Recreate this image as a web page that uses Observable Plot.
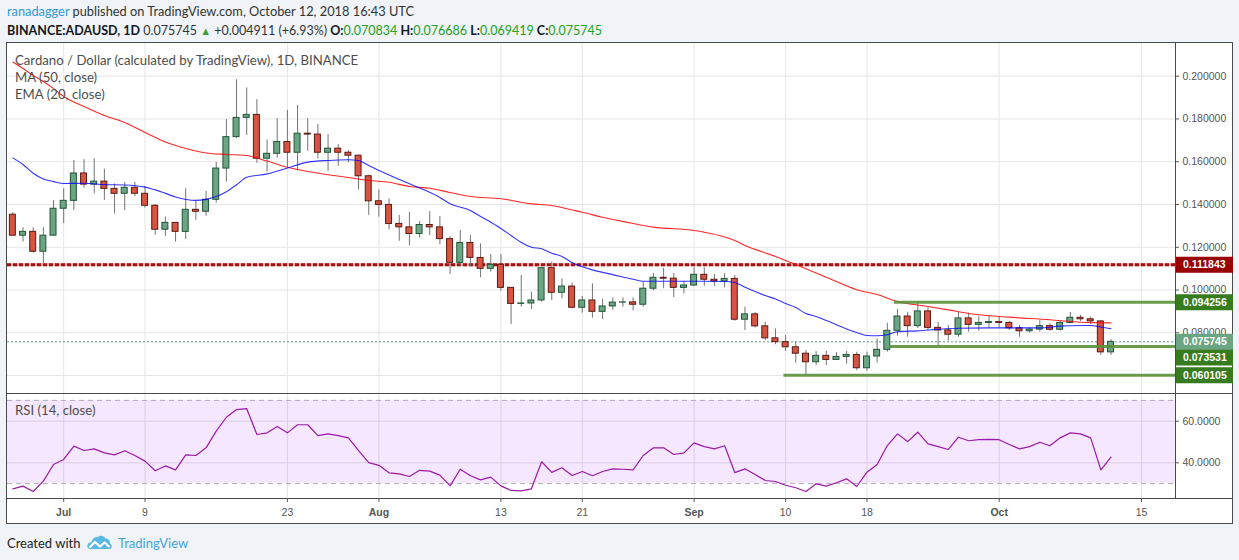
<!DOCTYPE html>
<html>
<head>
<meta charset="utf-8">
<script src="https://cdn.jsdelivr.net/npm/d3@7"></script>
<script src="https://cdn.jsdelivr.net/npm/@observablehq/plot@0.6"></script>
<style>
html,body{margin:0;padding:0;background:#f0f3f7;}
#root{position:relative;width:1239px;height:560px;overflow:hidden;background:#f0f3f7;font-family:Lato,"Open Sans",sans-serif;}
.abs{position:absolute;white-space:nowrap;}
.box{left:6px;top:42px;width:1227px;height:482px;border:1px solid #4a4a4a;box-sizing:border-box;background:#fff;}
.sep{background:#4a4a4a;}
.hdr{font-size:13px;line-height:17px;color:#333;}
.hdr b{color:#131722;font-weight:700;}
.user{color:#2f9bd6;}
.g{color:#22a022;}
.leg{font-size:13.2px;line-height:17px;color:#4e4e4e;left:15px;}
.foot{font-size:13px;line-height:18px;color:#222;}
.tv{color:#3ea6dc;}
svg.plot{position:absolute;}
</style>
</head>
<body>
<div id="root">
  <div class="abs hdr" style="left:7px;top:3px;font-size:12.8px;"><span class="user">ranadagger</span> published on TradingView.com, October 12, 2018 16:43 UTC</div>
  <div class="abs hdr" id="ohlc" style="left:7px;top:21.5px;font-size:12.5px;"></div>
  <div class="abs box"></div>
  <div id="plots"></div>
  <div class="abs sep" style="left:7px;top:393px;width:1226px;height:1px;"></div>
  <div class="abs sep" style="left:7px;top:498px;width:1226px;height:1px;"></div>
  <div class="abs sep" style="left:1175px;top:43px;width:1px;height:455px;"></div>
  <div class="abs leg" style="top:52px;">Cardano / Dollar (calculated by TradingView), 1D, BINANCE</div>
  <div class="abs leg" style="top:69px;">MA (50, close)</div>
  <div class="abs leg" style="top:86px;">EMA (20, close)</div>
  <div class="abs leg" style="top:402px;">RSI (14, close)</div>
  <div class="abs foot" style="left:7px;top:533.5px;">Created with</div>
  <svg class="abs" style="left:87px;top:535px;" width="25" height="15" viewBox="0 0 25 15">
    <path d="M3.5 14 C0.5 14 0 11.5 0.5 10 C1 8 3 7 4.5 7.2 C5 3.5 8 1.5 11 2 C13 0 17 0.5 18.5 3.5 C21.5 3.5 23.5 6 23 8.5 C24.5 9.5 25 11 24.5 12.5 C24 13.7 23 14 21.5 14 Z" fill="#5bb8e4"/>
    <polyline points="2.5,12.5 8,7 13,11.5 17.5,7.5 22.5,12" fill="none" stroke="#fff" stroke-width="2.2" stroke-linejoin="round"/>
  </svg>
  <div class="abs foot tv" style="left:118px;top:533.5px;">TradingView</div>
</div>
<script>
// ---------- DATA (BINANCE:ADAUSD, 1D, 2018-06-26 .. 2018-10-12) ----------
const firstDay = "2018-06-26";
const lastDayExclusive = "2018-10-13";
const open = [
 .1352,.1254,.1272,.1179,.1254,.1380,.1417,.1545,.1493,.1507,
 .1473,.1450,.1478,.1450,.1394,.1282,.1314,.1272,.1375,.1366,
 .1422,.1568,.1715,.1805,.1819,.1614,.1637,.1692,.1642,.1731,
 .1727,.1642,.1661,.1642,.1628,.1532,.1415,.1398,.1309,.1293,
 .1262,.1304,.1293,.1238,.1127,.1220,.1150,.1099,.1118,.1010,
 .0935,.0937,.0951,.1102,.0987,.1016,.0917,.0951,.0898,.0923,
 .0941,.0942,.0931,.1006,.1057,.1053,.1010,.1021,.1071,.1048,
 .1040,.1052,.0861,.0886,.0830,.0774,.0756,.0732,.0702,.0662,
 .0692,.0673,.0687,.0696,.0634,.0689,.0720,.0809,.0876,.0831,
 .0900,.0823,.0811,.0791,.0867,.0837,.0846,.0850,.0846,.0821,
 .0807,.0815,.0831,.0814,.0846,.0870,.0863,.0853,.070834];
const high = [
 .1362,.1291,.1291,.1291,.1419,.1473,.1606,.1610,.1614,.1565,
 .1496,.1503,.1503,.1485,.1400,.1342,.1314,.1473,.1414,.1461,
 .1597,.1797,.1983,.1945,.1890,.1702,.1801,.1840,.1863,.1801,
 .1774,.1727,.1680,.1652,.1632,.1537,.1468,.1426,.1349,.1363,
 .1320,.1367,.1344,.1250,.1278,.1255,.1216,.1166,.1166,.1010,
 .1068,.0990,.1106,.1130,.1052,.1033,.0970,.1029,.0956,.0963,
 .0963,.0963,.1036,.1077,.1101,.1077,.1041,.1104,.1104,.1073,
 .1076,.1068,.0920,.0894,.0848,.0818,.0787,.0756,.0717,.0712,
 .0713,.0708,.0712,.0709,.0709,.0771,.0845,.0909,.0896,.0943,
 .0917,.0849,.0834,.0895,.0892,.0876,.0876,.0873,.0853,.0834,
 .0823,.0857,.0842,.0853,.0895,.0881,.0873,.0857,.076686];
const low = [
 .1253,.1224,.1172,.1119,.1254,.1311,.1372,.1476,.1450,.1419,
 .1356,.1372,.1437,.1383,.1256,.1251,.1224,.1236,.1326,.1345,
 .1406,.1504,.1709,.1723,.1593,.1552,.1616,.1574,.1558,.1649,
 .1613,.1555,.1578,.1595,.1468,.1349,.1341,.1281,.1228,.1207,
 .1243,.1254,.1212,.1073,.1111,.1108,.1057,.1083,.0995,.0839,
 .0920,.0909,.0943,.0951,.0959,.0915,.0892,.0868,.0861,.0905,
 .0920,.0902,.0920,.0996,.1006,.0964,.0982,.1016,.1017,.1017,
 .1010,.0854,.0810,.0822,.0763,.0744,.0713,.0658,.0601,.0647,
 .0647,.0670,.0653,.0623,.0620,.0658,.0709,.0784,.0779,.0820,
 .0811,.0736,.0761,.0779,.0803,.0808,.0823,.0823,.0811,.0779,
 .0798,.0803,.0808,.0808,.0842,.0853,.0839,.0694,.069419];
const close = [
 .1254,.1272,.1179,.1254,.1380,.1417,.1545,.1493,.1507,.1473,
 .1450,.1478,.1450,.1394,.1282,.1314,.1272,.1375,.1366,.1422,
 .1568,.1715,.1805,.1819,.1614,.1637,.1692,.1642,.1731,.1727,
 .1642,.1661,.1642,.1628,.1532,.1415,.1398,.1309,.1293,.1262,
 .1304,.1293,.1238,.1127,.1220,.1150,.1099,.1118,.1010,.0935,
 .0937,.0951,.1102,.0987,.1016,.0917,.0951,.0898,.0923,.0941,
 .0942,.0931,.1006,.1057,.1053,.1010,.1021,.1071,.1048,.1040,
 .1052,.0861,.0886,.0830,.0774,.0756,.0732,.0702,.0662,.0692,
 .0673,.0687,.0696,.0634,.0689,.0720,.0809,.0876,.0831,.0900,
 .0823,.0811,.0791,.0867,.0837,.0846,.0850,.0846,.0821,.0807,
 .0815,.0831,.0814,.0846,.0870,.0863,.0853,.070834,.075745];
// MA(50) read at selected candles (index into the candle list)
const maIdx = [0,1,2,3,4,5,7,9,11,13,15,17,19,21,23,25,27,29,31,33,35,37,39,41,43,45,48,51,53,55,56,58,61,63,67,68,70,71,72,73,75,77,80,83,85,87,90,92,94,98,102,105,108];
const maVal = [.2066,.2036,.2003,.1975,.1942,.1905,.1858,.1816,.1783,.1737,.1692,.1662,.1641,.1634,.1629,.1603,.1574,.1554,.1539,.1526,.1512,.1504,.1484,.1476,.1456,.1437,.1427,.1403,.1395,.1374,.1364,.1340,.1311,.1294,.1278,.1270,.1248,.1232,.1208,.1190,.1157,.1119,.1060,.1001,.0979,.0946,.0923,.0907,.0890,.0873,.0861,.0849,.0846];
// EMA(20) read at selected candles
const emaIdx = [0,1,2,3,4,5,7,9,11,13,15,16,18,19,20,21,22,23,25,27,29,31,33,34,35,36,39,42,43,45,46,47,48,49,50,51,52,53,54,55,57,59,61,62,64,66,68,70,71,72,73,74,75,76,77,78,79,80,82,83,84,85,86,87,89,91,93,96,101,103,105,106,107,108];
const emaVal = [.1618,.1587,.1546,.1519,.1507,.1498,.1499,.1493,.1491,.1481,.1452,.1435,.1419,.1424,.1437,.1460,.1492,.1527,.1543,.1571,.1598,.1606,.1609,.1606,.1582,.1559,.1497,.1433,.1403,.1372,.1344,.1317,.1288,.1255,.1222,.1200,.1193,.1172,.1157,.1129,.1094,.1072,.1050,.1041,.1041,.1041,.1041,.1040,.1035,.1013,.0993,.0974,.0958,.0937,.0918,.0890,.0876,.0857,.0818,.0801,.0787,.0786,.0791,.0805,.0809,.0816,.0821,.0823,.0823,.0831,.0834,.0834,.0827,.0819];
// RSI(14) per candle
const rsi = [27.5,28.8,26.2,31.2,39.2,41.6,48.0,45.9,46.7,44.8,43.8,45.8,43.5,40.8,36.2,38.5,36.6,43.8,43.5,47.2,
 55.2,61.9,65.6,66.0,53.6,54.4,57.5,54.4,58.3,58.3,53.1,53.9,53.1,52.0,45.9,40.1,38.8,35.2,34.7,33.4,
 36.4,36.0,34.1,28.9,36.9,33.8,31.8,33.1,28.9,26.7,26.5,27.5,40.5,35.4,37.6,33.9,35.8,33.8,35.8,37.1,
 36.9,36.6,43.5,47.2,47.2,44.0,44.8,49.6,47.8,46.7,48.2,35.3,37.1,34.4,31.5,31.0,29.2,28.0,26.2,29.9,
 28.8,30.4,32.3,28.6,35.5,39.2,48.3,53.9,50.2,54.7,49.1,47.8,46.4,52.3,50.6,51.1,51.3,51.1,48.8,46.7,
 47.8,49.9,48.2,52.0,54.4,53.9,52.0,36.6,42.7];
// drawn levels
const redLevel = 0.111843;
const greenLevels = [0.094256, 0.073531, 0.060105];
const greenStarts = ["2018-09-20T17:00Z", "2018-09-20T05:00Z", "2018-09-09T20:00Z"];
const badgePrices = [0.111843, 0.094256, 0.075745, 0.073531, 0.060105];
const badgeColors = ["#990000", "#377b1f", "#6ba583", "#377b1f", "#377b1f"];
// axis ticks
const tickDates = ["2018-07-01","2018-07-09","2018-07-23","2018-08-01","2018-08-13","2018-08-21","2018-09-01","2018-09-10","2018-09-18","2018-10-01","2018-10-15"];
const priceGrid = [0.06,0.08,0.10,0.12,0.14,0.16,0.18,0.20];
const priceTicks = [0.08,0.10,0.12,0.14,0.16,0.18,0.20];
const rsiTicks = [40, 60];
const rsiBand = [30, 70];

// ---------- BUILD ----------
const dates = d3.utcDay.range(new Date(firstDay), new Date(lastDayExclusive));
const candles = dates.map((date, i) => ({date, open: open[i], high: high[i], low: low[i], close: close[i], up: close[i] >= open[i]}));
const maRows = maIdx.map((i, k) => ({date: dates[i], v: maVal[k]}));
const emaRows = emaIdx.map((i, k) => ({date: dates[i], v: emaVal[k]}));
const rsiRows = dates.map((date, i) => ({date, v: rsi[i]}));
const ticks = tickDates.map(s => new Date(s));
const monthTicks = ticks.filter(d => d.getUTCDate() === 1);
const dayTicks = ticks.filter(d => d.getUTCDate() !== 1);
const xDomain = [new Date("2018-06-25T11:21Z"), new Date("2018-10-18T08:14Z")];
const priceDomain = [0.051589, 0.215295];
const rsiDomain = [22.837, 73.317];
const fmt6 = d3.format(".6f");
const levels = greenLevels.map((p, i) => ({price: p, start: new Date(greenStarts[i])}));
const badges = badgePrices.map((p, i) => ({price: p, color: badgeColors[i], label: fmt6(p)}));

// header OHLC line from the last candle
const n = candles.length - 1, last = candles[n], prev = candles[n - 1];
const chg = last.close - prev.close;
document.getElementById("ohlc").innerHTML =
  `<b>BINANCE:ADAUSD, 1D</b> ${fmt6(last.close)} <span style="color:#3a9e3a;font-size:11px">&#9650;</span> +${fmt6(chg)} (+${(chg / prev.close * 100).toFixed(2)}%) ` +
  `<b>O:</b><span class="g">${fmt6(last.open)}</span> <b>H:</b><span class="g">${fmt6(last.high)}</span> ` +
  `<b>L:</b><span class="g">${fmt6(last.low)}</span> <b>C:</b><span class="g">${fmt6(last.close)}</span>`;

const axisStyle = {fontFamily: "'Liberation Sans', Arial, sans-serif", fontSize: "10.5px", color: "#555", background: "transparent", overflow: "visible"};
const gridColor = "#e6e6e6";

const main = Plot.plot({
  width: 1226, height: 350,
  marginLeft: 0, marginRight: 58, marginTop: 0, marginBottom: 0,
  x: {type: "utc", domain: xDomain, axis: null},
  y: {domain: priceDomain},
  style: axisStyle,
  marks: [
    Plot.ruleX(ticks, {stroke: gridColor}),
    Plot.ruleY(priceGrid, {stroke: gridColor}),
    Plot.ruleY([redLevel], {stroke: "#e9a3a3", strokeWidth: 3}),
    Plot.ruleY([redLevel], {stroke: "#9e1515", strokeWidth: 3, strokeDasharray: "4,2"}),
    Plot.ruleY([last.close], {stroke: "#5f9c7a", strokeDasharray: "2,2"}),
    Plot.ruleX(candles, {x: "date", y1: "low", y2: "high", stroke: "#737375"}),
    Plot.rect(candles, {
      x1: d => d3.utcHour.offset(d.date, -12), x2: d => d3.utcHour.offset(d.date, 12),
      y1: "open", y2: "close", insetLeft: 2.1, insetRight: 2.1,
      fill: d => d.up ? "#6ba583" : "#d75442",
      stroke: d => d.up ? "#225437" : "#5b1a13", strokeWidth: 1
    }),
    Plot.line(maRows, {x: "date", y: "v", stroke: "#ff0000", strokeWidth: 1.1, strokeOpacity: 0.85, curve: "monotone-x"}),
    Plot.line(emaRows, {x: "date", y: "v", stroke: "#0000ff", strokeWidth: 1.1, strokeOpacity: 0.8, curve: "monotone-x"}),
    Plot.ruleY(levels, {y: "price", x1: "start", x2: () => xDomain[1], stroke: "#5a913c", strokeWidth: 3, strokeOpacity: 0.9}),
    Plot.axisY(priceTicks, {anchor: "right", tickSize: 3, tickPadding: 4, tickFormat: fmt6, label: null})
  ]
});
main.classList.add("plot");
main.style.left = "7px"; main.style.top = "43px";

const shifted = 0.073531;
const badgePlot = Plot.plot({
  width: 57, height: 350,
  marginLeft: 0, marginRight: 0, marginTop: 0, marginBottom: 0,
  x: {domain: [0, 1], axis: null},
  y: {domain: priceDomain, axis: null},
  style: {...axisStyle, color: "#fff"},
  marks: [
    Plot.ruleY(badges.filter(b => b.price !== shifted), {y: "price", x1: 0, x2: 1, stroke: "color", strokeWidth: 16}),
    Plot.ruleY(badges.filter(b => b.price === shifted), {y: "price", x1: 0, x2: 1, stroke: "color", strokeWidth: 16, dy: 11}),
    Plot.text(badges.filter(b => b.price !== shifted), {y: "price", x: 0, text: "label", textAnchor: "start", dx: 6.5, fill: "#fff", fontWeight: "bold"}),
    Plot.text(badges.filter(b => b.price === shifted), {y: "price", x: 0, text: "label", textAnchor: "start", dx: 6.5, dy: 11, fill: "#fff", fontWeight: "bold"})
  ]
});
badgePlot.classList.add("plot");
badgePlot.style.left = "1175.5px"; badgePlot.style.top = "43px";

const rsiPlot = Plot.plot({
  width: 1226, height: 130,
  marginLeft: 0, marginRight: 58, marginTop: 0, marginBottom: 25,
  x: {type: "utc", domain: xDomain},
  y: {domain: rsiDomain},
  style: axisStyle,
  marks: [
    Plot.ruleX(ticks, {stroke: "#e3e3e3"}),
    Plot.ruleY(rsiTicks, {stroke: "#e3e3e3"}),
    Plot.rect([{lo: rsiBand[0], hi: rsiBand[1]}], {y1: "lo", y2: "hi", fill: "rgb(153,21,255)", fillOpacity: 0.1}),
    Plot.ruleY(rsiBand, {stroke: "#b3aabd", strokeDasharray: "5,4"}),
    Plot.line(rsiRows, {x: "date", y: "v", stroke: "#9c1aa8", strokeWidth: 1.2}),
    Plot.axisY(rsiTicks, {anchor: "right", tickSize: 3, tickPadding: 4, tickFormat: d3.format(".4f"), label: null}),
    Plot.axisX(monthTicks, {anchor: "bottom", tickSize: 4, tickPadding: 6, tickFormat: d3.utcFormat("%b"), fontWeight: "bold", label: null}),
    Plot.axisX(dayTicks, {anchor: "bottom", tickSize: 4, tickPadding: 6, tickFormat: d3.utcFormat("%-d"), label: null})
  ]
});
rsiPlot.classList.add("plot");
rsiPlot.style.left = "7px"; rsiPlot.style.top = "393px";

const holder = document.getElementById("plots");
holder.append(main, rsiPlot, badgePlot);
</script>
</body>
</html>
